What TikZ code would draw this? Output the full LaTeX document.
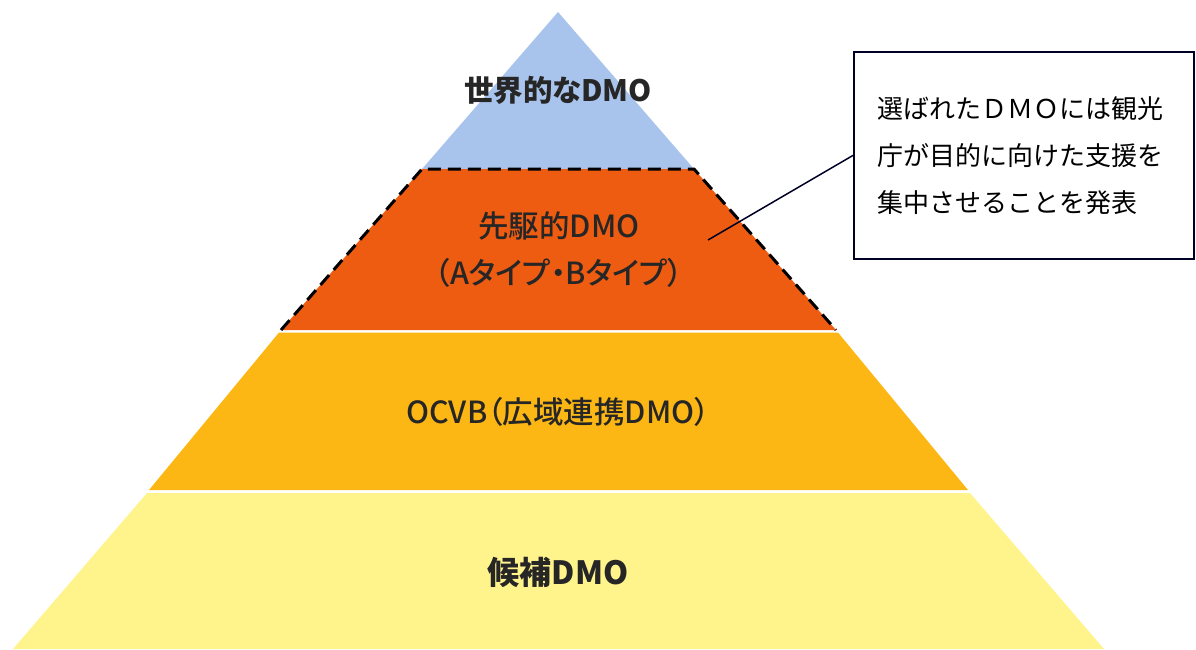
\documentclass[tikz,border=0pt]{standalone}
\usepackage{fontspec}
\setmainfont{Noto Sans CJK JP}
\newfontfamily\jpp[RawFeature=+palt]{Noto Sans CJK JP}
\newfontfamily\jpm[RawFeature=+palt]{Noto Sans CJK JP Medium}
\definecolor{cblue}{HTML}{A9C4EC}
\definecolor{corange}{HTML}{EE5C12}
\definecolor{camber}{HTML}{FDB714}
\definecolor{cyellow}{HTML}{FFF38C}
\definecolor{ctext}{HTML}{262626}
\tikzset{
  dashline/.style={draw=black, line width=3pt, dash pattern=on 13pt off 7pt},
  lbl/.style={text=ctext, inner sep=0pt},
  callout/.style={draw=black!85!blue, line width=1.8pt, fill=white, minimum width=340pt, minimum height=207pt, text width=292pt, align=left, inner xsep=24pt, font=\fontsize{26}{47}\selectfont},
  leader/.style={draw=black!85!blue, line width=1.5pt}
}
\begin{document}
\begin{tikzpicture}[x=1pt,y=-1pt]
\useasboundingbox (0,0) rectangle (1196,649);
\fill[cblue] (558,12) -- (694,169) -- (422,169) -- cycle;
\fill[corange] (422,169) -- (694,169) -- (836,330) -- (281,330) -- cycle;
\draw[dashline] (281,330) -- (422,169) -- (694,169) -- (836,330);
\fill[camber] (279,332.5) -- (838,332.5) -- (968,490) -- (149,490) -- cycle;
\fill[cyellow] (147,493) -- (970,493) -- (1104,649) -- (13,649) -- cycle;

\node[lbl, font=\jpp\bfseries\fontsize{29.5}{31}\selectfont] (t1) at (558,90) {世界的なDMO};
\node[lbl, font=\jpm\fontsize{30.5}{32}\selectfont] (t2) at (559,226) {先駆的DMO};
\node[lbl, font=\jpm\fontsize{30.5}{32}\selectfont] (t3) at (559,273) {（Aタイプ・Bタイプ）};
\node[lbl, font=\jpm\fontsize{30.5}{32}\selectfont] (t4) at (558,412) {OCVB（広域連携DMO）};
\node[lbl, font=\jpp\bfseries\fontsize{32}{34}\selectfont] (t5) at (558,572) {候補DMO};

\node[callout, anchor=north west] (box) at (853,51) {選ばれたＤＭＯには観光\\庁が目的に向けた支援を\\集中させることを発表};
\coordinate (tip) at (708,240);
\draw[leader] (box.west) -- (tip);
\end{tikzpicture}
\end{document}
